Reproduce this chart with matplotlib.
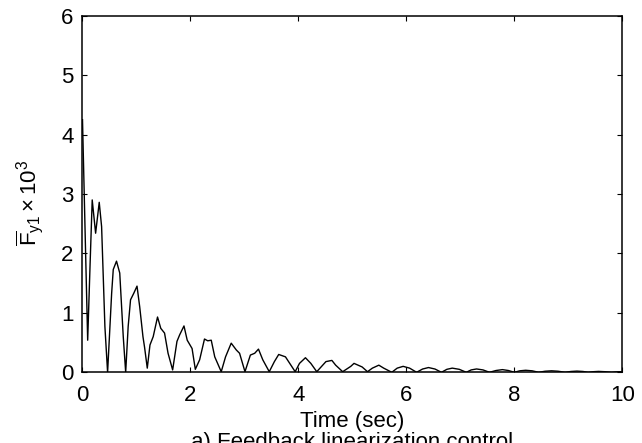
import matplotlib
matplotlib.use("Agg")
import matplotlib.pyplot as plt

plt.rcParams['font.family'] = ['Liberation Sans', 'DejaVu Sans']
plt.rcParams['mathtext.fontset'] = 'custom'
plt.rcParams['mathtext.rm'] = 'Liberation Sans'
plt.rcParams['mathtext.it'] = 'Liberation Sans:italic'

# values
t = [0.0, 0.05, 0.096, 0.14, 0.18, 0.243, 0.31, 0.354, 0.415, 0.465,
     0.54, 0.57, 0.63, 0.69, 0.755, 0.80,
     0.846, 0.89, 0.95, 1.01, 1.06, 1.12, 1.15, 1.20,
     1.25, 1.31, 1.39, 1.45, 1.52, 1.585, 1.67,
     1.75, 1.80, 1.88, 1.94, 2.03, 2.09,
     2.17, 2.26, 2.32, 2.385, 2.45, 2.57,
     2.65, 2.755, 2.85, 2.91, 3.01,
     3.11, 3.19, 3.26, 3.34, 3.46,
     3.555, 3.635, 3.76, 3.94,
     4.02, 4.13, 4.23, 4.34,
     4.51, 4.62, 4.69, 4.82,
     4.97, 5.03, 5.18, 5.28,
     5.37, 5.49, 5.58, 5.73,
     5.83, 5.94, 6.06, 6.19,
     6.30, 6.41, 6.53, 6.65,
     6.75, 6.85, 6.98, 7.11,
     7.20, 7.30, 7.42, 7.54,
     7.66, 7.78, 7.89, 8.00,
     8.10, 8.21, 8.33, 8.45,
     8.57, 8.69, 8.81, 8.94,
     9.05, 9.16, 9.27, 9.37,
     9.46, 9.56, 9.68, 9.80, 9.90, 10.0]
fy1 = [4.25, 2.3, 0.54, 1.8, 2.9, 2.34, 2.86, 2.45, 0.77, 0.0,
       1.33, 1.73, 1.87, 1.67, 0.6, 0.0,
       0.77, 1.22, 1.33, 1.45, 1.10, 0.6, 0.42, 0.07,
       0.46, 0.6, 0.93, 0.74, 0.66, 0.32, 0.04,
       0.52, 0.63, 0.78, 0.54, 0.40, 0.05,
       0.21, 0.56, 0.53, 0.54, 0.26, 0.01,
       0.26, 0.49, 0.375, 0.32, 0.01,
       0.29, 0.32, 0.39, 0.21, 0.01,
       0.18, 0.30, 0.26, 0.01,
       0.15, 0.245, 0.15, 0.01,
       0.18, 0.20, 0.12, 0.01,
       0.10, 0.15, 0.09, 0.01,
       0.07, 0.12, 0.07, 0.0,
       0.07, 0.10, 0.07, 0.0,
       0.055, 0.08, 0.055, 0.0,
       0.05, 0.07, 0.05, 0.0,
       0.04, 0.056, 0.04, 0.0,
       0.03, 0.045, 0.03, 0.0,
       0.025, 0.034, 0.025, 0.0,
       0.018, 0.025, 0.018, 0.0,
       0.014, 0.02, 0.014, 0.0,
       0.01, 0.015, 0.01, 0.0, 0.008, 0.01]

xticks = [0, 2, 4, 6, 8, 10]
yticks = [0, 1, 2, 3, 4, 5, 6]

fig = plt.figure(figsize=(6.42, 4.43), dpi=100)
ax = fig.add_axes([0.1285, 0.1596, 0.8408, 0.805])
ax.plot(t, fy1, color='k', lw=1.0)

ax.set_xlim(0, 10)
ax.set_ylim(0, 6)
ax.set_xticks(xticks)
ax.set_yticks(yticks)
ax.tick_params(direction='in', top=True, right=True, length=3.5, width=0.8,
               labelsize=16)
ax.tick_params(axis='x', pad=9.5)
ax.tick_params(axis='y', pad=6.5)
for s in ax.spines.values():
    s.set_linewidth(1.1)

ax.set_xlabel('Time (sec)', fontsize=16, labelpad=3)
ax.set_ylabel(r'$\overline{\mathrm{F}}_{\mathrm{y1}}\times10^{3}$', fontsize=16, labelpad=1)
ax.yaxis.set_label_coords(-0.07, 0.476)

# caption sits partly below the figure edge, as in the source
fig.text(0.5 * (0.1285 * 2 + 0.8408), 1 - 432 / 443, 'a) Feedback linearization control',
         ha='center', va='top', fontsize=16)

fig.savefig('out.png', dpi=100)
